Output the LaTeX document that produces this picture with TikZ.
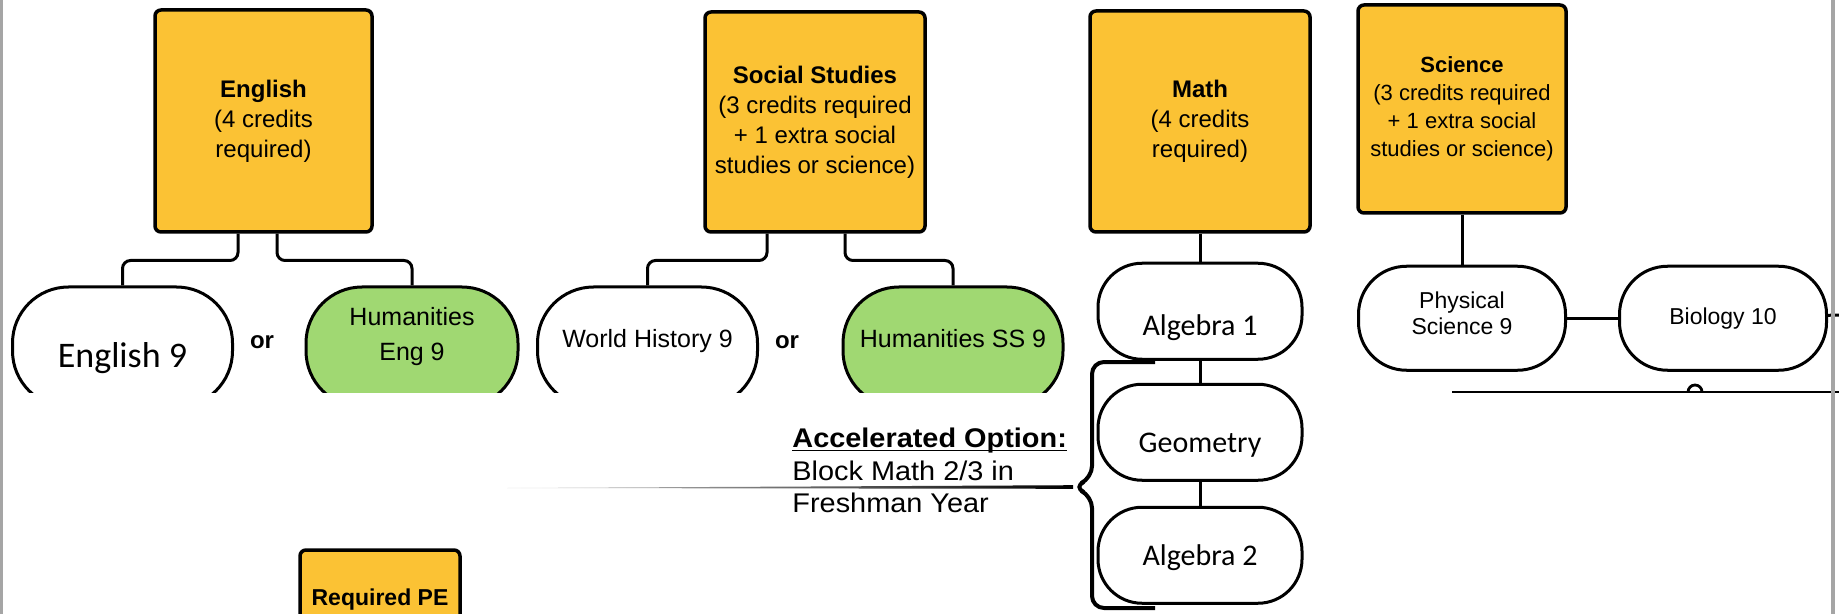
\documentclass[tikz,border=0pt]{standalone}
\usepackage{fontspec}
\setmainfont{Liberation Sans}
\newfontfamily\calib{Carlito}
\newfontfamily\accfont{Liberation Sans}[FakeStretch=1.07]
\usetikzlibrary{positioning}
\definecolor{hdyellow}{RGB}{251,194,52}
\definecolor{humgreen}{RGB}{160,216,114}
\definecolor{edgegray}{RGB}{165,165,165}

\begin{document}
\begin{tikzpicture}[
		x=0.5pt, y=-0.5pt
		,every node/.append style={inner sep=0pt, align=center}
		,hd/.style={draw, line width=1.75pt, rounded corners=3pt, fill=hdyellow, font=\fontsize{12}{15}\selectfont}
		,crs/.style={draw, line width=1.5pt, fill=white, rounded corners=22pt, minimum width=102pt, minimum height=48pt, font=\fontsize{11.5}{13}\selectfont}
		,big/.style={crs, rounded corners=28pt, minimum width=110pt, minimum height=60pt, font=\fontsize{12.5}{17.5}\selectfont}
		,sc/.style={crs, rounded corners=24pt, minimum width=103.5pt, minimum height=52pt}
		,hum/.style={fill=humgreen}
		,cal/.style={font=\calib\fontsize{15}{18}\selectfont}
		,ln/.style={line width=1.5pt, rounded corners=4pt}
		,orw/.style={font=\bfseries\fontsize{12}{14}\selectfont}
	]
		\useasboundingbox (0,0) rectangle (1839,614);
		\clip (0,0) rectangle (1839,614);

		\node [hd, minimum width=108.5pt, minimum height=111pt] (eng) at (263.5,121) {\textbf{English}\\(4 credits\\required)};
		\node [hd, minimum width=110pt, minimum height=110pt] (soc) at (815,122) {\textbf{Social Studies}\\(3 credits required\\+ 1 extra social\\studies or science)};
		\node [hd, minimum width=110pt, minimum height=110.5pt] (math) at (1200,121.5) {\textbf{Math}\\(4 credits\\required)};
		\node [hd, minimum width=104pt, minimum height=104pt, font=\fontsize{11}{14}\selectfont] (sci) at (1462,109) {\textbf{Science}\\(3 credits required\\+ 1 extra social\\studies or science)};

		\begin{scope}
			\clip (0,0) rectangle (1085,392);
			\node [big, font=\calib\fontsize{18}{21}\selectfont, text height=23.3pt, text depth=3.3pt] (e9) at (122.5,347) {English 9};
			\node [big, hum, minimum width=106pt, text depth=12.6pt] (he9) at (412,347) {Humanities\\Eng 9};
			\node [big, text height=9.1pt, text depth=8.1pt] (wh9) at (647.5,347) {World History 9};
			\node [big, hum, text height=9.1pt, text depth=8.1pt] (hss9) at (953,347) {Humanities SS 9};
		\end{scope}
		\node [orw] (or1) at (262,342) {or};
		\node [orw] (or2) at (787,342) {or};

		\draw [ln] (eng.south -| 238,0) |- ([yshift=12.5pt]e9.north) -- (e9.north);
		\draw [ln] (eng.south -| 277,0) |- ([yshift=12.5pt]he9.north) -- (he9.north);
		\draw [ln] (soc.south -| 767,0) |- ([yshift=12.5pt]wh9.north) -- (wh9.north);
		\draw [ln] (soc.south -| 845,0) |- ([yshift=12.5pt]hss9.north) -- (hss9.north);

		\node [crs, cal, text height=27.5pt, text depth=3pt, below=14pt of math] (alg1) {Algebra 1};
		\node [crs, cal, text height=23pt, text depth=3pt, below=11pt of alg1] (geo) {Geometry};
		\node [crs, cal, text height=13pt, text depth=3pt, below=12pt of geo] (alg2) {Algebra 2};
		\draw [ln] (math) -- (alg1);
		\draw [ln] (alg1) -- (geo);
		\draw [ln] (geo) -- (alg2);

		\node [sc, text depth=5pt, below=25pt of sci] (phys) {Physical\\Science 9};
		\node [sc, right=25.5pt of phys] (bio) {Biology 10};
		\draw [ln] (sci) -- (phys);
		\draw [ln] (phys) -- (bio);
		\coordinate (cutr) at (1839,315);
		\draw [ln] (bio) -- (cutr);

		\coordinate (la) at (1452,392);
		\coordinate (lb) at (1839,392);
		\coordinate (bump) at (1688,392);
		\draw [line width=1.4pt] (la) -- (lb);
		\draw [line width=1.4pt] (bump) arc (180:360:7);

		\coordinate (tip) at (1073,487);
		\coordinate (tail) at (507,488);
		\shade [left color=gray!30, right color=black] (tail) -- ([yshift=0.9pt]tip) -- ([yshift=-0.9pt]tip) -- cycle;
		\coordinate (bt) at (1155,362);
		\coordinate (bb) at (1155,608);
		\draw [line width=2pt, rounded corners=6pt] (bt) -- (1092,362) -- (1092,478) -- (tip) -- (1092,496) -- (1092,608) -- (bb);

		\node [anchor=north west, align=left, font=\accfont\fontsize{13.5}{16.25}\selectfont] (acc) at (792,428) {\underline{\raisebox{0pt}[\height][0pt]{\textbf{Accelerated Option:}}}\\Block Math 2/3 in\\Freshman Year};

		\node [hd, minimum width=80pt, minimum height=50pt, font=\bfseries\fontsize{11.5}{14}\selectfont] (pe) at (380,600) {Required PE};

		\fill [edgegray] (0,0) rectangle (3,614);
		\fill [edgegray] (1831,0) rectangle (1835,614);
	\end{tikzpicture}
\end{document}
